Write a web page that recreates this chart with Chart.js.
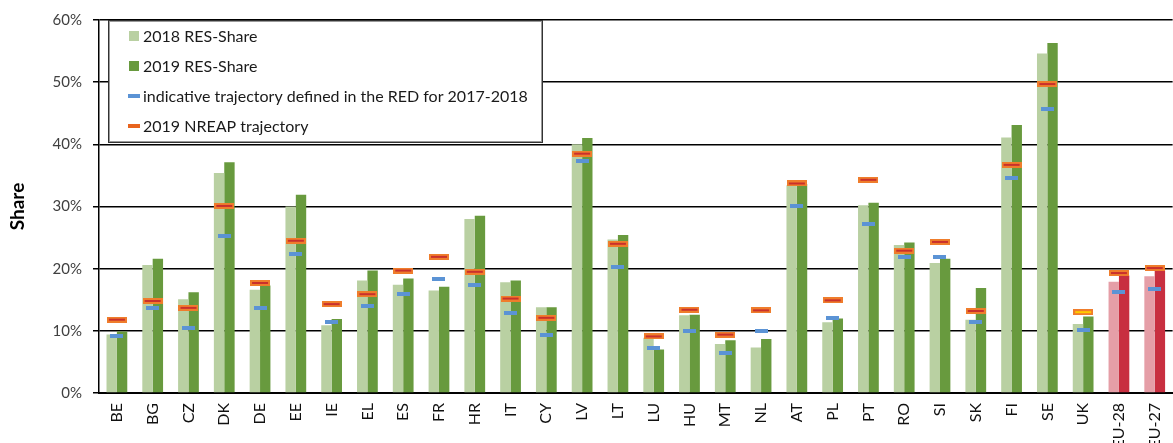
<!DOCTYPE html>
<html>
<head>
<meta charset="utf-8">
<script src="https://cdn.jsdelivr.net/npm/chart.js@4/dist/chart.umd.min.js"></script>
<style>
  html, body { margin: 0; padding: 0; background: #fff; overflow: hidden; }
  #wrap { width: 1184px; height: 443px; }
</style>
</head>
<body>
<div id="wrap"><canvas id="chart" width="1184" height="443"></canvas></div>
<script>
// categories and values (percent)
const countries = ["BE","BG","CZ","DK","DE","EE","IE","EL","ES","FR","HR","IT","CY","LV","LT","LU","HU","MT","NL","AT","PL","PT","RO","SI","SK","FI","SE","UK","EU-28","EU-27"];
const share2018 = [9.4,20.6,15.1,35.4,16.6,30.0,10.9,18.1,17.4,16.5,28.0,17.8,13.8,40.0,24.7,8.9,12.5,7.9,7.3,33.4,11.4,30.2,23.8,20.9,11.8,41.1,54.6,11.1,17.9,18.8];
const share2019 = [9.9,21.6,16.2,37.1,17.3,31.9,11.9,19.7,18.4,17.1,28.5,18.1,13.8,41.0,25.4,7.0,12.6,8.5,8.7,33.6,12.0,30.6,24.2,21.6,16.9,43.1,56.3,12.3,18.9,19.7];
const redTrajectory = [9.1,13.6,10.5,25.3,13.6,22.4,11.4,14.0,16.0,18.4,17.3,12.8,9.4,37.3,20.2,7.3,9.9,6.4,9.9,30.1,12.1,27.2,21.8,21.8,11.4,34.6,45.7,10.2,16.2,16.8];
const nreapTrajectory = [11.8,14.8,13.7,30.1,17.7,24.5,14.3,15.9,19.7,21.9,19.5,15.2,12.1,38.5,24.0,9.1,13.4,9.4,13.3,33.7,14.9,34.3,22.9,24.3,13.2,36.7,49.7,13.0,19.3,20.1];
const yTicks = [0,10,20,30,40,50,60];

const isEU = c => c.startsWith("EU");
const light = countries.map(c => isEU(c) ? "#e59ea7" : "#b9d0a2");
const dark = countries.map(c => isEU(c) ? "#c82f40" : "#689a3e");

function dash(w, h, fill, inner) {
  const c = document.createElement("canvas");
  c.width = w; c.height = h;
  const g = c.getContext("2d");
  g.fillStyle = fill;
  g.fillRect(0, 0, w, h);
  if (inner) {
    g.fillStyle = inner;
    g.fillRect(2, Math.round(h / 2) - 1, w - 4, 2);
  }
  return c;
}
const blueMark = dash(13, 4, "#5b93d5");
const orangeMark = dash(20, 6, "#ef7d2c", "#c9302c");
const orangeMarkUK = dash(20, 6, "#ef7d2c", "#ffcc00");

const font = "Lato, 'Open Sans', sans-serif";

// vertical boxed legend inside the plot, like the original
const boxLegend = {
  id: "boxLegend",
  afterDraw(chart) {
    const ctx = chart.ctx;
    const x0 = 109, y0 = 21, x1 = 541, y1 = 141;
    ctx.save();
    ctx.fillStyle = "#fff";
    ctx.fillRect(x0, y0, x1 - x0, y1 - y0);
    ctx.strokeStyle = "#999";
    ctx.lineWidth = 1;
    ctx.strokeRect(x0 + 0.5, y0 + 0.5, x1 - x0, y1 - y0);
    ctx.strokeStyle = "#333";
    ctx.strokeRect(x0 - 0.5, y0 - 0.5, x1 - x0 + 2, y1 - y0 + 2);
    const items = [
      { text: "2018 RES-Share", kind: "box", color: "#b9d0a2" },
      { text: "2019 RES-Share", kind: "box", color: "#689a3e" },
      { text: "indicative trajectory defined in the RED for 2017-2018", kind: "dash", color: "#5b93d5" },
      { text: "2019 NREAP trajectory", kind: "dash", color: "#e8641e" }
    ];
    ctx.font = "16px " + font;
    ctx.textBaseline = "middle";
    items.forEach((it, i) => {
      const y = 36 + i * 30;
      ctx.fillStyle = it.color;
      if (it.kind === "box") ctx.fillRect(129, y - 5, 10, 10);
      else ctx.fillRect(128, y - 2, 12, 4);
      ctx.fillStyle = "#1a1a1a";
      ctx.fillText(it.text, 143, y + 1);
    });
    ctx.restore();
  }
};

new Chart(document.getElementById("chart"), {
  type: "bar",
  data: {
    labels: countries,
    datasets: [
      { label: "2018 RES-Share", data: share2018, backgroundColor: light, order: 2 },
      { label: "2019 RES-Share", data: share2019, backgroundColor: dark, order: 2 },
      { type: "line", label: "indicative trajectory defined in the RED for 2017-2018", data: redTrajectory,
        showLine: false, pointStyle: blueMark, order: 1 },
      { type: "line", label: "2019 NREAP trajectory", data: nreapTrajectory,
        showLine: false, pointStyle: ctx => countries[ctx.dataIndex] === "UK" ? orangeMarkUK : orangeMark, order: 0 }
    ]
  },
  options: {
    responsive: false,
    animation: false,
    devicePixelRatio: 1,
    layout: { padding: { top: 19, right: 0, left: 0, bottom: 0 } },
    datasets: { bar: { categoryPercentage: 0.58, barPercentage: 1.0 } },
    plugins: { legend: { display: false }, tooltip: { enabled: false } },
    scales: {
      x: {
        grid: { display: false, drawTicks: false },
        border: { display: true, color: "#000", width: 2 },
        ticks: { autoSkip: false, minRotation: 90, maxRotation: 90, padding: 10,
                 color: "#111", font: { family: font, size: 16 } },
        afterFit: s => { s.height = 50; }
      },
      y: {
        min: 0, max: 60,
        afterBuildTicks: s => { s.ticks = yTicks.map(v => ({ value: v })); },
        grid: { color: "#000", lineWidth: 1.5, tickLength: 6, drawTicks: true },
        border: { display: true, color: "#000", width: 1.5 },
        ticks: { padding: 11, color: "#404040", font: { family: font, size: 15 }, callback: v => v + "%" },
        title: { display: true, text: "Share", color: "#000", padding: { top: 6, bottom: 0 },
                 font: { family: font, size: 19, weight: "bold" } },
        afterFit: s => { s.width = 99; }
      }
    }
  },
  plugins: [boxLegend]
});
</script>
</body>
</html>
